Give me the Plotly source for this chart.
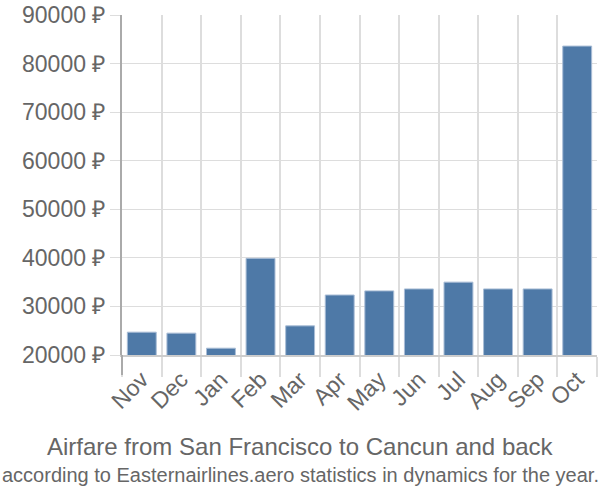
import plotly.graph_objects as go

months = ["Nov", "Dec", "Jan", "Feb", "Mar", "Apr", "May", "Jun", "Jul", "Aug", "Sep", "Oct"]
prices = [24700, 24500, 21400, 39900, 26000, 32350, 33200, 33600, 35000, 33600, 33600, 83600]
y_ticks = [20000, 30000, 40000, 50000, 60000, 70000, 80000, 90000]
y_tick_text = [f"{v} ₽" for v in y_ticks]
title = "Airfare from San Francisco to Cancun and back"
subtitle = "according to Easternairlines.aero statistics in dynamics for the year."

fig = go.Figure(go.Bar(
    x=months, y=prices,
    marker=dict(color="#4e79a7", line=dict(color="#a9bdd6", width=1)),
    width=0.73,
))

fig.update_layout(
    width=600, height=500,
    margin=dict(l=122, r=3, t=15, b=145),
    paper_bgcolor="white", plot_bgcolor="white",
    font=dict(family="Liberation Sans, Arial, sans-serif", color="#666666"),
    showlegend=False,
    bargap=0.27,
)
fig.update_xaxes(
    type="category", tickson="boundaries", ticks="outside", ticklen=20,
    tickcolor="#dddddd", tickwidth=2,
    showgrid=True, gridcolor="#dddddd", gridwidth=2,
    showline=True, linecolor="#cccccc", linewidth=2,
    tickangle=-45, tickfont=dict(size=23, color="#666666"),
)
fig.update_yaxes(
    range=[20000, 90000], tickvals=y_ticks, ticktext=y_tick_text,
    ticks="outside", ticklen=10, tickcolor="#dddddd",
    showgrid=True, gridcolor="#dddddd", gridwidth=1,
    showline=True, linecolor="#aaaaaa", linewidth=2,
    tickfont=dict(size=23, color="#666666"), zeroline=False,
)
fig.add_shape(type="line", xref="paper", yref="paper", x0=0, x1=0, y0=0, y1=-0.059,
              line=dict(color="#aaaaaa", width=2))
fig.add_annotation(text=title, xref="paper", yref="paper", x=0.375, y=-0.268,
                   xanchor="center", yanchor="middle", showarrow=False,
                   font=dict(size=24, color="#666666"))
fig.add_annotation(text=subtitle, xref="paper", yref="paper", x=0.375, y=-0.353,
                   xanchor="center", yanchor="middle", showarrow=False,
                   font=dict(size=20, color="#666666"))
fig.write_html("out.html")
